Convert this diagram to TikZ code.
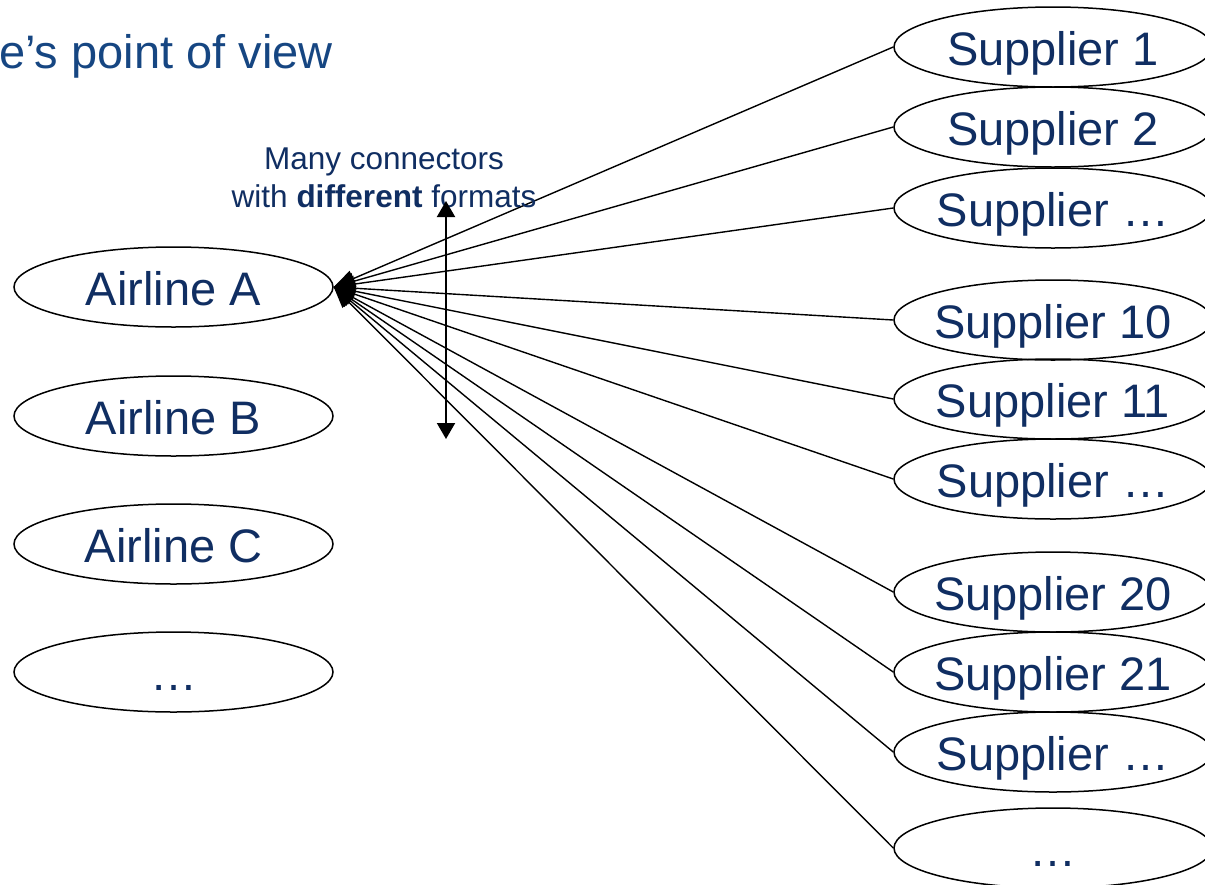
\documentclass[tikz,border=0pt]{standalone}
\usepackage{fontspec}
\setmainfont{Liberation Sans}
\usetikzlibrary{shapes.geometric,arrows.meta}
\definecolor{nodetext}{RGB}{16,46,98}
\definecolor{titletext}{RGB}{22,70,130}
\tikzset{
  oval/.style={ellipse,draw=black,line width=1.5pt,inner xsep=-40pt,inner ysep=-10pt,
    minimum width=319pt,minimum height=80pt,text=nodetext,
    text height=36pt,text depth=0pt,
    font=\fontsize{47}{56}\selectfont},
  sup/.style={oval,minimum width=318pt},
  conn/.style={line width=1.4pt,-{Triangle[length=21pt,width=17pt]}},
  vert/.style={line width=2pt,{Triangle[length=16pt,width=18pt]}-{Triangle[length=16pt,width=18pt]}},
}
\begin{document}
\begin{tikzpicture}[x=1pt,y=-1pt]
\useasboundingbox (0,0) rectangle (1205,884);
\clip (0,0) rectangle (1205,884);
\fill[white] (0,0) rectangle (1205,884);

\node[anchor=base west,inner sep=0pt,text=titletext,font=\fontsize{47}{56}\selectfont] (title) at (-1,68) {e’s point of view};

\node[oval] (A) at (173.5,287) {Airline A};
\node[oval] (B) at (173.5,416) {Airline B};
\node[oval] (C) at (173.5,544) {Airline C};
\node[oval] (D) at (173.5,672) {…};

\node[sup] (s1)  at (1053,47)  {Supplier 1};
\node[sup] (s2)  at (1053,127) {Supplier 2};
\node[sup] (s3)  at (1053,208) {Supplier …};
\node[sup] (s10) at (1053,320) {Supplier 10};
\node[sup] (s11) at (1053,399) {Supplier 11};
\node[sup] (s12) at (1053,479) {Supplier …};
\node[sup] (s20) at (1053,592) {Supplier 20};
\node[sup] (s21) at (1053,672) {Supplier 21};
\node[sup] (s22) at (1053,752) {Supplier …};
\node[sup] (s30) at (1053,848) {…};

\foreach \s in {s1,s2,s3,s10,s11,s12,s20,s21,s22,s30}
  \draw[conn] (\s.west) -- (A.east);

\node[align=center,inner sep=0pt,text=nodetext,font=\fontsize{31.5}{38}\selectfont] (lbl) at (384,178)
  {Many connectors\\with \textbf{different} formats};

\coordinate (vt) at (446,201);
\coordinate (vb) at (446,439);
\draw[vert] (vt) -- (vb);
\end{tikzpicture}
\end{document}
